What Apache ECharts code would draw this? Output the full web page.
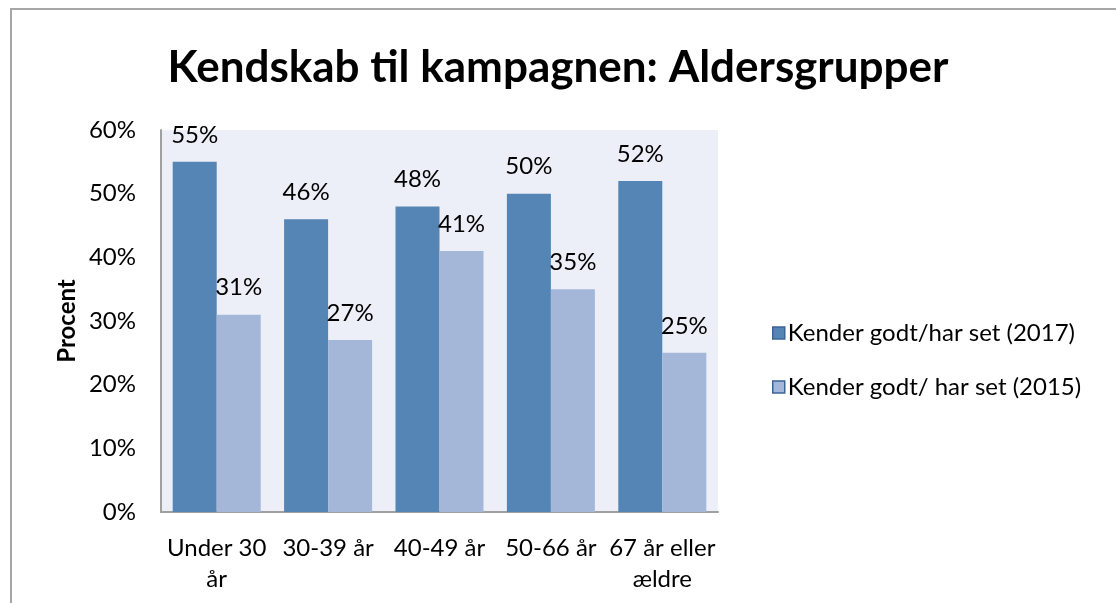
<!DOCTYPE html>
<html>
<head>
<meta charset="utf-8">
<script src="https://cdn.jsdelivr.net/npm/echarts@6/dist/echarts.min.js"></script>
<style>
  html, body { margin: 0; padding: 0; background: #ffffff; overflow: hidden; }
  #frame { position: absolute; left: 10px; top: 8px; width: 1200px; height: 700px;
           border-left: 2px solid #a6a6a6; border-top: 2px solid #a6a6a6; }
  #chart { position: absolute; left: 0; top: 0; width: 1116px; height: 603px; }
</style>
</head>
<body>
<div id="frame"></div>
<div id="chart"></div>
<script>
// Age groups and awareness shares (percent)
const categories = ['Under 30\når', '30-39 år', '40-49 år', '50-66 år', '67 år eller\nældre'];
const seriesNames = ['Kender godt/har set (2017)', 'Kender godt/ har set (2015)'];
const values2017 = [55, 46, 48, 50, 52];
const values2015 = [31, 27, 41, 35, 25];
const yTicks = { min: 0, max: 60, interval: 10 };

const FONT = 'Lato, "Open Sans", sans-serif';
const FS = 24;
const DARK = '#5585b5';
const LIGHT = '#a4b7d8';

const labelStyle = {
  show: true,
  position: 'top',
  distance: 15,
  color: '#000',
  fontFamily: FONT,
  fontSize: FS,
  formatter: p => p.value + '%'
};

const chart = echarts.init(document.getElementById('chart'), null, { renderer: 'canvas' });
chart.setOption({
  animation: false,
  backgroundColor: 'transparent',
  title: {
    text: 'Kendskab til kampagnen: Aldersgrupper',
    left: 'center',
    top: 46,
    textStyle: { fontFamily: FONT, fontWeight: 'bold', fontSize: 44, color: '#000' },
    padding: 0
  },
  grid: {
    left: 161, right: 398, top: 130, bottom: 91,
    show: true, backgroundColor: '#eceff7', borderWidth: 0,
    containLabel: false
  },
  legend: {
    orient: 'vertical',
    left: 767,
    top: 316,
    itemWidth: 12,
    itemHeight: 12,
    itemGap: 30,
    icon: 'rect',
    itemStyle: { borderWidth: 1.5, borderColor: '#3c6496' },
    textStyle: { fontFamily: FONT, fontSize: FS, color: '#000', padding: [0, 0, 0, -2] },
    data: seriesNames
  },
  xAxis: {
    type: 'category',
    data: categories,
    axisLine: { lineStyle: { color: '#a0a0a0', width: 2 } },
    axisTick: { show: false },
    axisLabel: { interval: 0, fontFamily: FONT, fontSize: FS, color: '#000', margin: 21, lineHeight: 31 }
  },
  yAxis: {
    type: 'value',
    min: yTicks.min, max: yTicks.max, interval: yTicks.interval,
    name: 'Procent',
    nameLocation: 'middle',
    nameGap: 82,
    nameRotate: 90,
    nameTextStyle: { fontFamily: FONT, fontWeight: 'bold', fontSize: FS, color: '#000' },
    axisLine: { show: true, lineStyle: { color: '#a0a0a0', width: 2 } },
    axisTick: { show: false },
    splitLine: { show: false },
    axisLabel: { fontFamily: FONT, fontSize: FS, color: '#000', margin: 25,
                 padding: [14, 0, 0, 0], formatter: '{value}%' }
  },
  series: [
    {
      name: seriesNames[0], type: 'bar', data: values2017,
      barGap: '0%', barCategoryGap: '21%',
      itemStyle: { color: DARK },
      label: labelStyle
    },
    {
      name: seriesNames[1], type: 'bar', data: values2015,
      itemStyle: { color: LIGHT },
      label: labelStyle
    }
  ]
});
</script>
</body>
</html>
